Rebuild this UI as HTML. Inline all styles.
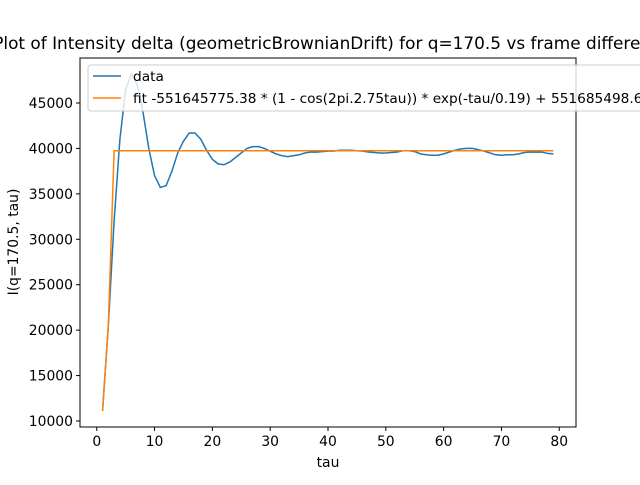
<!DOCTYPE html>
<html><head><meta charset="utf-8"><style>
body{margin:0;background:#fff}
svg text{font-family:"DejaVu Sans","Liberation Sans",sans-serif}
</style></head><body>
<svg id="chart" width="640" height="480" viewBox="0 0 640 480" xmlns="http://www.w3.org/2000/svg">
<rect width="640" height="480" fill="#fff"/>
<text x="332" y="49" font-size="16.9" text-anchor="middle">Plot of Intensity delta (geometricBrownianDrift) for q=170.5 vs frame difference</text>
<g id="plot"></g>
<rect x="80" y="58" width="496" height="369" fill="none" stroke="#000" stroke-width="1"/>
<text x="328" y="467" font-size="13.9" text-anchor="middle">tau</text>
<text transform="translate(18,242) rotate(-90)" font-size="13.9" text-anchor="middle">I(q=170.5, tau)</text>
<g>
<rect x="88" y="65" width="560" height="46" rx="3" fill="#fff" fill-opacity="0.8" stroke="#ccc"/>
<line x1="93" y1="76" x2="121" y2="76" stroke="#1f77b4" stroke-width="1.5"/>
<text x="133" y="81" font-size="13.7">data</text>
<line x1="93" y1="98" x2="121" y2="98" stroke="#ff7f0e" stroke-width="1.5"/>
<text x="133" y="103" font-size="13.7">fit -551645775.38 * (1 - cos(2pi.2.75tau)) * exp(-tau/0.19) + 551685498.64</text>
</g>
</svg>
<script>
const taus=[];for(let i=1;i<=79;i++)taus.push(i);
const dataValues=[11100,20500,32000,41000,46500,48200,47000,44000,40000,37000,35700,35900,37500,39500,40800,41700,41700,41000,39800,38800,38300,38200,38500,39000,39500,40000,40200,40200,40000,39700,39400,39200,39100,39200,39300,39500,39600,39600,39650,39700,39700,39800,39800,39800,39750,39700,39600,39550,39500,39500,39550,39600,39750,39750,39650,39400,39300,39250,39250,39400,39600,39800,39950,40000,40000,39850,39700,39500,39300,39250,39300,39300,39400,39550,39600,39600,39600,39450,39400];
const fitValues=[11100,20500];for(let i=3;i<=79;i++)fitValues.push(39750);
const xTicks=[0,10,20,30,40,50,60,70,80];
const yTicks=[10000,15000,20000,25000,30000,35000,40000,45000];
const NS="http://www.w3.org/2000/svg";
const X=v=>80+(v+2.9)*496/85.8;
const Y=v=>421-(v-10000)*318/35000;
const g=document.getElementById('plot');
function el(t,a){const e=document.createElementNS(NS,t);for(const k in a)e.setAttribute(k,a[k]);g.appendChild(e);return e;}
xTicks.forEach(t=>{
 const l=el('line',{x1:X(t),x2:X(t),y1:427,y2:431,stroke:'#000'});
 
 
 const tx=el('text',{x:X(t),y:446,'font-size':13.9,'text-anchor':'middle'});tx.textContent=t;
 
 
});
yTicks.forEach(t=>{
 const l=el('line',{x1:76,x2:80,y1:Y(t),y2:Y(t),stroke:'#000'});
 
 
 const tx=el('text',{x:73,y:Y(t)+5,'font-size':13.9,'text-anchor':'end'});tx.textContent=t;
 
 
});
const p1=el('polyline',{points:taus.map((t,i)=>X(t)+','+Y(dataValues[i])).join(' '),fill:'none',stroke:'#1f77b4','stroke-width':1.5});


const p2=el('polyline',{points:taus.map((t,i)=>X(t)+','+Y(fitValues[i])).join(' '),fill:'none',stroke:'#ff7f0e','stroke-width':1.5});


</script>
</body></html>
